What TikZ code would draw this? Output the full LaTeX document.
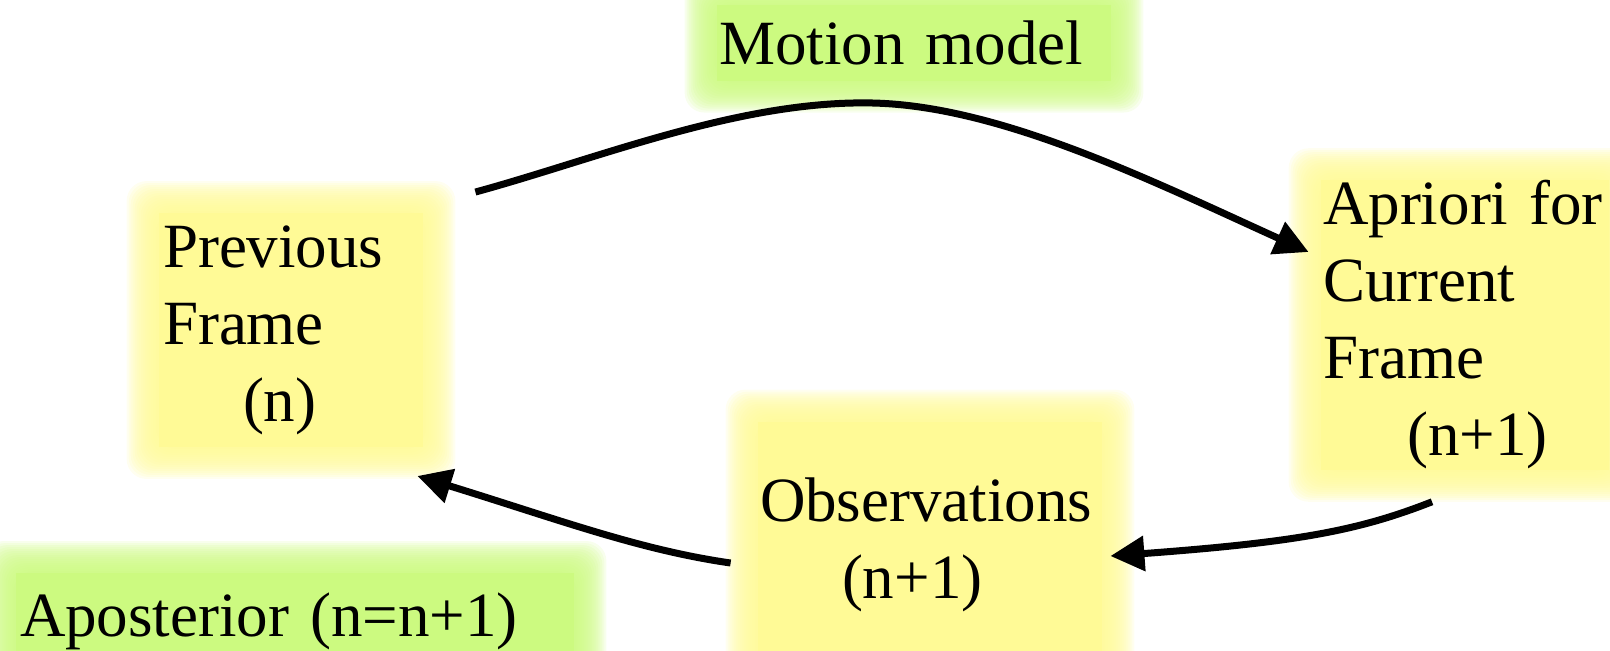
\documentclass[tikz,border=0pt]{standalone}
\usepackage{fontspec}
\setmainfont{Liberation Serif}
\usepackage{tikz}
\usetikzlibrary{calc}
\usetikzlibrary{arrows.meta}
\usetikzlibrary{backgrounds}
\definecolor{softyellow}{RGB}{255,250,150}
\definecolor{softgreen}{RGB}{204,250,128}
\tikzset{box/.style={align=left, inner xsep=2pt, inner ysep=6pt, font=\fontsize{31.5}{38.5}\selectfont}}
\tikzset{flow/.style={black, line width=3.5pt, -{Triangle[length=17pt,width=17pt]}}}
\newcommand{\glow}[2]{%
\foreach \g in {16,...,1} {
\fill[#2, opacity=.14, rounded corners=10pt] ($(#1.south west)+({-\g*2},{\g*2})$) rectangle ($(#1.north east)+({\g*2},{-\g*2})$);
}
\fill[#2] (#1.south west) rectangle (#1.north east);
}

\begin{document}
\begin{tikzpicture}[x=0.5pt, y=-0.5pt]
\useasboundingbox (0,0) rectangle (1610,650);
\node[box, text width=128pt] (prev) at (291,330) {Previous\\Frame\\\hspace*{40pt}(n)};
\node[box, text width=142pt, inner xsep=1pt, inner ysep=0pt] (apriori) at (1465,325) {Apriori for\\Current\\Frame\\\hspace*{42pt}(n+1)};
\node[box, text width=170pt, inner xsep=1pt, inner ysep=28pt] (obs) at (930,545) {Observations\\\hspace*{41pt}(n+1)};
\node[box, text width=195pt, inner xsep=1pt, inner ysep=7.5pt] (motion) at (914,43) {Motion model};
\node[box, text width=275pt, inner ysep=9.5pt] (apost) at (295,621) {Aposterior (n=n+1)};
\begin{scope}[on background layer]
\glow{prev}{softyellow}
\glow{apriori}{softyellow}
\glow{obs}{softyellow}
\glow{motion}{softgreen}
\glow{apost}{softgreen}
\end{scope}
\draw[flow] ($(prev.north east)+(52,-21)$) .. controls (600,158) and (740,100) .. (873,103) .. controls (1000,106) and (1150,180) .. ($(apriori.west)+(-12,-73)$);
\draw[flow] ($(apriori.south)+(-33,32)$) .. controls (1360,530) and (1300,542) .. ($(obs.east)+(8,11)$);
\draw[flow] ($(obs.west)+(-27,18)$) .. controls (640,550) and (560,520) .. ($(prev.south east)+(-6,29)$);
\end{tikzpicture}
\end{document}
